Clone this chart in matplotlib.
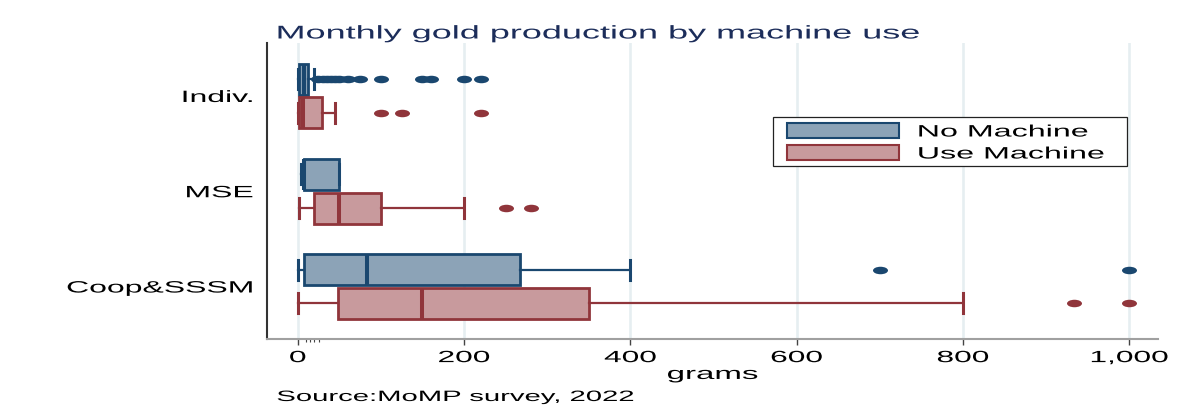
import matplotlib
matplotlib.use('Agg')
import matplotlib.pyplot as plt
import numpy as np
from matplotlib.patches import Rectangle
from matplotlib.patheffects import AbstractPathEffect
from matplotlib.path import Path
from matplotlib.transforms import Affine2D

plt.rcParams['font.family'] = ['Liberation Sans', 'DejaVu Sans']

# —— box summaries (grams per month) ——
groups = ['Indiv.', 'MSE', 'Coop&SSSM']
series = ['No Machine', 'Use Machine']

# order: Indiv., MSE, Coop&SSSM
no_whislo = [0, 4, 0]
no_q1 = [2, 7, 8]
no_med = [7, 7, 83]
no_q3 = [12, 50, 267]
no_whishi = [20, 50, 400]
no_fliers = [
    [24, 30, 35, 40, 45, 50, 60, 75, 100, 150, 160, 200, 220],
    [],
    [700, 1000],
]

use_whislo = [0, 1, 0]
use_q1 = [1, 20, 48]
use_med = [6, 50, 150]
use_q3 = [29, 100, 350]
use_whishi = [45, 200, 800]
use_fliers = [
    [100, 125, 220],
    [250, 280],
    [934, 1000],
]

x_ticks = [0, 200, 400, 600, 800, 1000]
x_minor = [10, 15, 20, 25]
# ————————————————

navy = '#1a476f'
navy_fill = '#8ca3b7'
maroon = '#90353b'
maroon_fill = '#c89a9d'
grid_col = '#e6eef1'

SX = 1.95  # horizontal stretch of lettering


class Widen(AbstractPathEffect):
    """Stretch glyph outlines sideways around a chosen anchor."""

    def __init__(self, sx=SX, anchor='left'):
        super().__init__()
        self.sx = sx
        self.anchor = anchor

    def draw_path(self, renderer, gc, tpath, affine, rgbFace=None):
        if len(tpath.vertices) == 0:
            return
        ext = tpath.get_extents()
        cx = {'left': ext.x0, 'center': 0.5 * (ext.x0 + ext.x1), 'right': ext.x1}[self.anchor]
        stretch = Affine2D().translate(-cx, 0).scale(self.sx, 1).translate(cx, 0)
        renderer.draw_path(gc, tpath, stretch + affine, rgbFace)


def stats(whislo, q1, med, q3, whishi, fliers):
    return [dict(whislo=a, q1=b, med=c, q3=d, whishi=e, fliers=np.array(f, float))
            for a, b, c, d, e, f in zip(whislo, q1, med, q3, whishi, fliers)]


ellipse = Path.unit_circle().transformed(Affine2D().scale(1.0, 0.5))

fig = plt.figure(figsize=(11.8, 4.12), dpi=100)
ax = fig.add_axes([0.2263, 0.1772, 0.7551, 0.7184])

pos = np.arange(len(groups))
off = 0.178
width = 0.325


def draw(st, positions, edge, fill):
    ax.bxp(st, positions=positions, widths=width, orientation='horizontal',
           patch_artist=True, manage_ticks=False, capwidths=0.21,
           boxprops=dict(facecolor=fill, edgecolor=edge, linewidth=2.0),
           medianprops=dict(color=edge, linewidth=2.9, solid_capstyle='butt'),
           whiskerprops=dict(color=edge, linewidth=1.6),
           capprops=dict(color=edge, linewidth=2.2),
           flierprops=dict(marker=ellipse, markersize=10.8, markerfacecolor=edge,
                           markeredgecolor='none', linestyle='none'),
           zorder=3)


draw(stats(no_whislo, no_q1, no_med, no_q3, no_whishi, no_fliers), pos - off, navy, navy_fill)
draw(stats(use_whislo, use_q1, use_med, use_q3, use_whishi, use_fliers), pos + off, maroon, maroon_fill)

ax.set_xlim(-36.9, 1034.6)
ax.set_ylim(2.551, -0.556)

for v in x_ticks:
    ax.axvline(v, color=grid_col, linewidth=1.9, zorder=0)

ax.set_xticks(x_ticks, [f'{v:,}' for v in x_ticks])
ax.set_xticks(x_minor, minor=True)
ax.tick_params(axis='x', which='major', length=4.5, width=1.0, color='#444444',
               labelsize=11.7, pad=3.5)
ax.tick_params(axis='x', which='minor', length=2.2, width=0.8, color='#444444')
ax.set_yticks(pos, groups)
ax.tick_params(axis='y', length=0, labelsize=11.8, pad=10)

ax.spines['top'].set_visible(False)
ax.spines['right'].set_visible(False)
ax.spines['left'].set_color('#333333')
ax.spines['left'].set_linewidth(1.5)
ax.spines['bottom'].set_color('#a0a0a0')
ax.spines['bottom'].set_linewidth(1.5)

for t in ax.get_xticklabels():
    t.set_path_effects([Widen(anchor='center')])
for t in ax.get_yticklabels():
    t.set_path_effects([Widen(anchor='right')])

ax.set_xlabel('grams', fontsize=12.2, path_effects=[Widen(anchor='center')])
ax.xaxis.set_label_coords(0.5, -0.135)
ax.xaxis.label.set_verticalalignment('baseline')

fig.text(277 / 1180, 1 - 38.5 / 412, 'Monthly gold production by machine use',
         fontsize=13.3, color='#1c2d5a', ha='left', va='baseline',
         path_effects=[Widen(anchor='left')])
fig.text(277 / 1180, 1 - 401 / 412, 'Source:MoMP survey, 2022',
         fontsize=10.8, color='black', ha='left', va='baseline',
         path_effects=[Widen(anchor='left')])

# legend drawn by hand so the wide lettering fits its frame
W, H = 1180, 412
fig.add_artist(Rectangle((773 / W, 1 - 166 / H), 354 / W, 49 / H, transform=fig.transFigure,
                         facecolor='white', edgecolor='#222222', linewidth=0.9, zorder=5))
for i, (name, edge, fill) in enumerate(zip(series, [navy, maroon], [navy_fill, maroon_fill])):
    ytop = 123 + 22 * i
    fig.add_artist(Rectangle((787 / W, 1 - (ytop + 15) / H), 112 / W, 15 / H,
                             transform=fig.transFigure, facecolor=fill, edgecolor=edge,
                             linewidth=1.5, zorder=6))
    fig.text(918 / W, 1 - (ytop + 7.5) / H, name, fontsize=11.9, ha='left',
             va='center_baseline', zorder=6, path_effects=[Widen(anchor='left')])

fig.savefig('out.png', dpi=100)
